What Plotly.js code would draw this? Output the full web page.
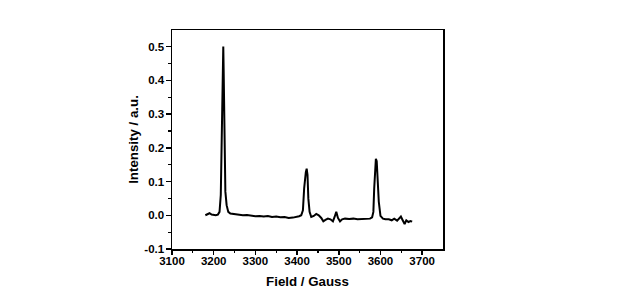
<!DOCTYPE html>
<html><head><meta charset="utf-8">
<script src="https://cdn.plot.ly/plotly-3.0.1.min.js"></script>
<style>html,body{margin:0;padding:0;background:#fff;}#chart{width:637px;height:293px;}</style>
</head><body><div id="chart"></div>
<script>
const field = [3180,3186,3190,3195,3200,3205,3210,3214,3217,3220,3222,3223,3224,3226,3228,3231,3235,3240,3245,3250,3260,3270,3280,3290,3300,3310,3320,3330,3340,3350,3360,3370,3380,3390,3400,3405,3410,3414,3417,3419,3421,3423,3425,3427,3430,3434,3440,3446,3452,3458,3463,3468,3474,3480,3486,3490,3494,3498,3503,3508,3515,3525,3535,3545,3555,3565,3575,3580,3583,3585,3587,3589,3591,3593,3596,3600,3606,3612,3620,3627,3633,3640,3645,3649,3653,3658,3662,3667,3672,3676];
const intensity = [0.000,0.004,0.006,0.002,0.000,0.000,0.002,0.010,0.060,0.250,0.440,0.500,0.420,0.180,0.070,0.030,0.010,0.005,0.004,0.003,0.002,0.000,0.001,-0.002,-0.003,-0.002,-0.004,-0.002,-0.005,-0.004,-0.006,-0.005,-0.008,-0.007,-0.005,-0.003,0.000,0.015,0.080,0.120,0.128,0.138,0.120,0.050,0.010,-0.005,-0.002,0.004,0.000,-0.008,-0.018,-0.014,-0.010,-0.012,-0.018,-0.005,0.010,-0.008,-0.018,-0.012,-0.010,-0.011,-0.010,-0.012,-0.011,-0.012,-0.010,-0.006,0.010,0.080,0.150,0.167,0.160,0.120,0.040,-0.002,-0.010,-0.012,-0.012,-0.015,-0.010,-0.016,-0.010,-0.004,-0.014,-0.026,-0.015,-0.020,-0.017,-0.019];
const xTicks = [3100,3200,3300,3400,3500,3600,3700];
const yTicks = [-0.1,0.0,0.1,0.2,0.3,0.4,0.5];
const tickFont = {family:'"Liberation Sans", Arial, sans-serif', size:11.5, color:'#000', weight:'bold'};
const titleFont = {family:'"Liberation Sans", Arial, sans-serif', size:13.3, color:'#000', weight:'bold'};
Plotly.newPlot('chart', [{
  x: field, y: intensity, type:'scatter', mode:'lines',
  line:{color:'#000', width:2}, hoverinfo:'skip'
}], {
  width:637, height:293,
  margin:{l:171.5, r:194, t:29.5, b:44, pad:0},
  paper_bgcolor:'#fff', plot_bgcolor:'#fff',
  showlegend:false,
  xaxis:{
    range:[3100,3750], tickvals:xTicks, ticktext:xTicks.map(String),
    showgrid:false, zeroline:false, showline:true, mirror:true,
    linecolor:'#000', linewidth:1.5, ticks:'outside', ticklen:4, tickwidth:1.5, tickcolor:'#000',
    minor:{tickvals:[3150,3250,3350,3450,3550,3650], ticks:'outside', ticklen:2.5, tickwidth:1.2, tickcolor:'#000', showgrid:false},
    tickfont:tickFont, ticklabelstandoff:-3,
    title:{text:'Field / Gauss', font:titleFont, standoff:10}
  },
  yaxis:{
    range:[-0.1,0.549], tickvals:yTicks, ticktext:yTicks.map(v=>v.toFixed(1)),
    showgrid:false, zeroline:false, showline:true, mirror:true,
    linecolor:'#000', linewidth:1.5, ticks:'outside', ticklen:5, tickwidth:1.5, tickcolor:'#000',
    minor:{tickvals:[-0.05,0.05,0.15,0.25,0.35,0.45], ticks:'outside', ticklen:2.5, tickwidth:1.2, tickcolor:'#000', showgrid:false},
    tickfont:tickFont, ticklabelstandoff:-1,
    title:{text:'Intensity / a.u.', font:titleFont, standoff:2}
  }
}, {staticPlot:true, displayModeBar:false});
</script></body></html>
